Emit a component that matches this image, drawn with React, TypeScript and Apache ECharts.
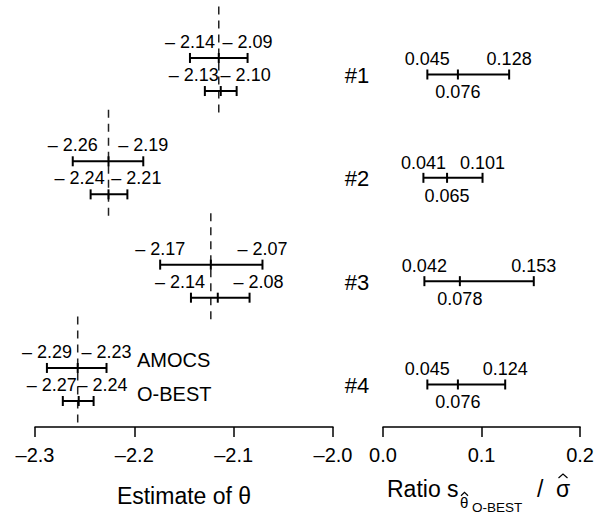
import React, { useEffect, useRef } from "react";
import * as echarts from "echarts";

const FONT = '"Liberation Sans", Arial, Helvetica, sans-serif';

// Study groups
const groups = ["#1", "#2", "#3", "#4"];

// AMOCS interval (lower, estimate, upper)
const amocsLow = [-2.144, -2.262, -2.174, -2.288];
const amocsEst = [-2.115, -2.226, -2.123, -2.257];
const amocsHigh = [-2.086, -2.191, -2.071, -2.228];

// O-BEST interval (lower, estimate, upper)
const obestLow = [-2.129, -2.244, -2.143, -2.272];
const obestEst = [-2.113, -2.226, -2.116, -2.256];
const obestHigh = [-2.097, -2.207, -2.084, -2.241];

// Ratio s_theta(O-BEST) / sigma
const ratioLow = [0.045, 0.041, 0.042, 0.045];
const ratioEst = [0.076, 0.065, 0.078, 0.076];
const ratioHigh = [0.128, 0.101, 0.153, 0.124];

// Axis ticks
const thetaTicks = [-2.3, -2.2, -2.1, -2.0];
const ratioTicks = [0.0, 0.1, 0.2];

const ROW_OFFSET = 0.16;

const fmtTheta = (v: number) =>
  (v < 0 ? "\u2013 " : "") + Math.abs(v).toFixed(2);

function makeIntervalRender(kind: "theta" | "ratio") {
  return (params: any, api: any) => {
    const low = api.value(0);
    const est = api.value(1);
    const high = api.value(2);
    const y = api.value(3);
    const pL = api.coord([low, y]);
    const pE = api.coord([est, y]);
    const pH = api.coord([high, y]);
    const stroke = "#000";
    const lw = 2;
    const t = 5;
    const children: any[] = [
      { type: "line", shape: { x1: pL[0], y1: pL[1], x2: pH[0], y2: pH[1] }, style: { stroke, lineWidth: lw } },
      { type: "line", shape: { x1: pL[0], y1: pL[1] - t, x2: pL[0], y2: pL[1] + t }, style: { stroke, lineWidth: lw } },
      { type: "line", shape: { x1: pH[0], y1: pH[1] - t, x2: pH[0], y2: pH[1] + t }, style: { stroke, lineWidth: lw } },
      { type: "line", shape: { x1: pE[0], y1: pE[1] - t, x2: pE[0], y2: pE[1] + t }, style: { stroke, lineWidth: lw } },
    ];
    const txt = (s: string, x: number, yy: number, size = 18, align = "center") => ({
      type: "text",
      style: { text: s, x, y: yy, align, verticalAlign: "middle", fontSize: size, fontFamily: FONT, fill: "#000" },
    });
    if (kind === "theta") {
      // O-BEST (odd rows) labels are pushed apart a little, as in the original
      const isObest = params.dataIndex % 2 === 1;
      const dl = isObest ? -11 : 0;
      const dh = isObest ? 9 : 0;
      children.push(txt(fmtTheta(low), pL[0] + dl, pL[1] - 16));
      children.push(txt(fmtTheta(high), pH[0] + dh, pH[1] - 16));
    } else {
      children.push(txt(low.toFixed(3), pL[0], pL[1] - 15));
      children.push(txt(high.toFixed(3), pH[0], pH[1] - 15));
      children.push(txt(est.toFixed(3), pE[0], pE[1] + 18));
      const p0 = api.coord([0, y]);
      children.push(txt(groups[params.dataIndex], p0[0] - 26, p0[1] + 1, 22));
    }
    return { type: "group", children };
  };
}

export default function App() {
  const ref = useRef<HTMLDivElement>(null);
  useEffect(() => {
    if (!ref.current) return;
    document.body.style.margin = "0";
    const chart = echarts.init(ref.current, null, { renderer: "svg" });

    const thetaData: number[][] = [];
    groups.forEach((_, g) => {
      thetaData.push([amocsLow[g], amocsEst[g], amocsHigh[g], g - ROW_OFFSET]);
      thetaData.push([obestLow[g], obestEst[g], obestHigh[g], g + ROW_OFFSET]);
    });
    const dashData = groups.map((_, g) => [amocsEst[g], g]);
    const ratioData = groups.map((_, g) => [ratioLow[g], ratioEst[g], ratioHigh[g], g]);

    const yMin = -0.6726;
    const yMax = 3.4114;

    const axisCommon = {
      type: "value" as const,
      interval: 0.1,
      axisLine: { show: true, onZero: false, lineStyle: { color: "#000", width: 1.5 } },
      axisTick: { show: true, length: 10, lineStyle: { color: "#000", width: 1.5 } },
      splitLine: { show: false },
      axisLabel: { color: "#000", fontSize: 20, fontFamily: FONT, margin: 18 },
    };

    const hat = (cx: number, cy: number, w: number, h: number) => ({
      type: "polyline",
      shape: { points: [[cx - w / 2, cy + h / 2], [cx, cy - h / 2], [cx + w / 2, cy + h / 2]] },
      style: { stroke: "#000", lineWidth: 1.2, fill: null },
    });

    chart.setOption({
      animation: false,
      backgroundColor: "#fff",
      grid: [
        { left: 35, width: 298, top: 5, height: 422 },
        { left: 383, width: 199, top: 5, height: 422 },
      ],
      xAxis: [
        {
          ...axisCommon,
          gridIndex: 0,
          min: thetaTicks[0],
          max: thetaTicks[thetaTicks.length - 1],
          axisLabel: {
            ...axisCommon.axisLabel,
            formatter: (v: number) => v.toFixed(1).replace("-", "\u2013"),
          },
          name: "Estimate of \u03b8",
          nameLocation: "middle",
          nameGap: 57,
          nameTextStyle: { color: "#000", fontSize: 23, fontFamily: FONT },
        },
        {
          ...axisCommon,
          gridIndex: 1,
          min: ratioTicks[0],
          max: ratioTicks[ratioTicks.length - 1],
          axisLabel: { ...axisCommon.axisLabel, formatter: (v: number) => v.toFixed(1) },
        },
      ],
      yAxis: [
        { type: "value", gridIndex: 0, min: yMin, max: yMax, inverse: true, show: false },
        { type: "value", gridIndex: 1, min: yMin, max: yMax, inverse: true, show: false },
      ],
      graphic: [
        { type: "text", x: 137, y: 360, style: { text: "AMOCS", verticalAlign: "middle", fontSize: 20, fontFamily: FONT, fill: "#000" } },
        { type: "text", x: 137, y: 394, style: { text: "O-BEST", verticalAlign: "middle", fontSize: 20, fontFamily: FONT, fill: "#000" } },
        { type: "text", x: 387, y: 489, style: { text: "Ratio s", align: "left", verticalAlign: "middle", fontSize: 23, fontFamily: FONT, fill: "#000" } },
        { type: "text", x: 460, y: 502, style: { text: "\u03b8", align: "left", verticalAlign: "middle", fontSize: 15, fontFamily: FONT, fill: "#000" } },
        hat(464.5, 494, 7, 3.5),
        { type: "text", x: 472, y: 507, style: { text: "O-BEST", align: "left", verticalAlign: "middle", fontSize: 13.5, fontFamily: FONT, fill: "#000" } },
        { type: "text", x: 537, y: 489, style: { text: "/", align: "left", verticalAlign: "middle", fontSize: 23, fontFamily: FONT, fill: "#000" } },
        { type: "text", x: 556, y: 489, style: { text: "\u03c3", align: "left", verticalAlign: "middle", fontSize: 23, fontFamily: FONT, fill: "#000" } },
        hat(563, 476, 9, 4),
      ],
      series: [
        {
          type: "custom",
          xAxisIndex: 0,
          yAxisIndex: 0,
          clip: false,
          data: dashData,
          encode: { x: 0, y: 1 },
          renderItem: (params: any, api: any) => {
            const x = api.value(0);
            const g = api.value(1);
            const a = api.coord([x, g - 0.658]);
            const b = api.coord([x, g + 0.377]);
            return {
              type: "line",
              shape: { x1: a[0], y1: a[1], x2: b[0], y2: b[1] },
              style: { stroke: "#222", lineWidth: 1.5, lineDash: [8, 6] },
            };
          },
        },
        {
          type: "custom",
          xAxisIndex: 0,
          yAxisIndex: 0,
          clip: false,
          data: thetaData,
          encode: { x: [0, 1, 2], y: 3 },
          renderItem: makeIntervalRender("theta"),
        },
        {
          type: "custom",
          xAxisIndex: 1,
          yAxisIndex: 1,
          clip: false,
          data: ratioData,
          encode: { x: [0, 1, 2], y: 3 },
          renderItem: makeIntervalRender("ratio"),
        },
      ],
    });
    return () => chart.dispose();
  }, []);
  return <div ref={ref} style={{ width: 597, height: 513 }} />;
}
